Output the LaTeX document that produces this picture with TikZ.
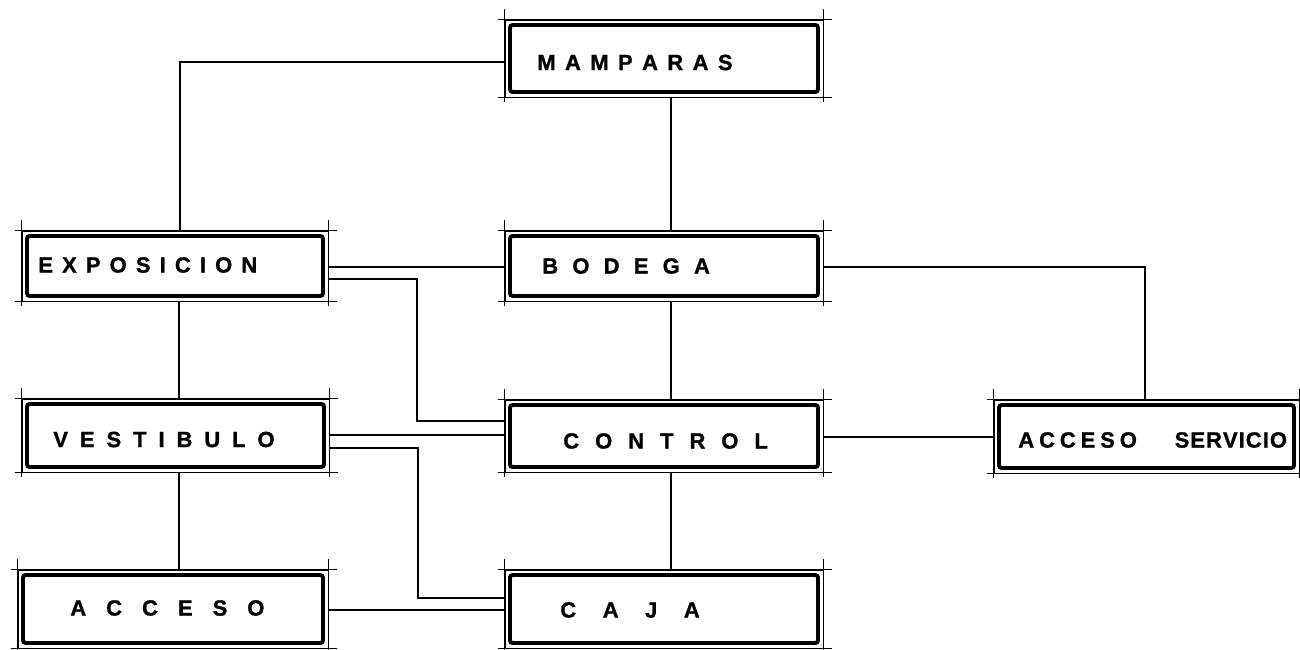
\documentclass[tikz,border=0pt]{standalone}
\usepackage{fontspec}
\setmainfont{Liberation Sans}
\newfontfamily\lblfont{Liberation Sans Bold}[FakeBold=1.2]
\usetikzlibrary{fit}
\newcommand\lsp[2]{\def\lspsep{\hspace{#1}}\lspA#2\relax}
\def\lspA#1{\ifx#1\relax\else#1\expandafter\lspB\fi}
\def\lspB#1{\ifx#1\relax\else\lspsep#1\expandafter\lspB\fi}
\begin{document}
\begin{tikzpicture}[x=0.02cm,y=-0.02cm,
  frame/.style={draw, line width=0.5pt, inner sep=0pt,
    path picture={\draw[line width=2.2pt, rounded corners=1.5pt]
      ([shift={(0.1cm,-0.1cm)}]path picture bounding box.north west) rectangle
      ([shift={(-0.1cm,0.1cm)}]path picture bounding box.south east);}},
  cropmark/.style={line width=0.5pt},
  lbl/.style={anchor=west, inner sep=0pt, font=\fontsize{12.5}{14}\lblfont},
  link/.style={line width=1.1pt}]
\useasboundingbox (0,0) rectangle (1300,649);
\fill[white] (0,0) rectangle (1300,649);
% boxes
\node[frame, fit={(505,20) (823,97)}] (mam) {};
\node[frame, fit={(22,231) (328,301)}] (exp) {};
\node[frame, fit={(505,231) (823,301)}] (bod) {};
\node[frame, fit={(22,399) (329,472)}] (ves) {};
\node[frame, fit={(505,400) (823,472)}] (con) {};
\node[frame, fit={(994,400) (1299,473)}] (acs) {};
\node[frame, fit={(18,570) (328,648)}] (acc) {};
\node[frame, fit={(505,570) (823,648)}] (caj) {};
% corner extension marks
\foreach \n in {mam,exp,bod,ves,con,acs,acc,caj}{
  \draw[cropmark] ([xshift=-0.14cm]\n.north west) -- ([xshift=0.18cm]\n.north east);
  \draw[cropmark] ([xshift=-0.14cm]\n.south west) -- ([xshift=0.18cm]\n.south east);
  \draw[cropmark] ([yshift=0.22cm]\n.north west) -- ([yshift=-0.1cm]\n.south west);
  \draw[cropmark] ([yshift=0.22cm]\n.north east) -- ([yshift=-0.1cm]\n.south east);
}
% labels
\node[lbl] (tmam) at (537,62.5) {\lsp{5.36pt}{MAMPARAS}};
\node[lbl] (texp) at (38,265) {\lsp{5.2pt}{EXPOSICION}};
\node[lbl] (tbod) at (542,266) {\lsp{8.1pt}{BODEGA}};
\node[lbl] (tves) at (53,439.5) {\lsp{6.8pt}{VESTIBULO}};
\node[lbl] (tcon) at (563,441) {\lsp{9.1pt}{CONTROL}};
\node[lbl] (tacs) at (1018,440) {\lsp{2.8pt}{ACCESO}\hspace{21.5pt}\lsp{0.6pt}{SERVICIO}};
\node[lbl] (tacc) at (70,608) {\lsp{11.4pt}{ACCESO}};
\node[lbl] (tcaj) at (560,610) {\lsp{15.1pt}{CAJA}};
% connectors
\draw[link] (mam.west |- 0,62) -| (exp.north -| 180,0);
\draw[link] (mam.south -| 671,0) -- (bod.north -| 671,0);
\draw[link] (exp.east |- 0,267) -- (bod.west |- 0,267);
\draw[link] (exp.east |- 0,279) -| (417,421) -- (con.west |- 0,421);
\draw[link] (bod.east |- 0,267) -| (acs.north -| 1145,0);
\draw[link] (bod.south -| 671,0) -- (con.north -| 671,0);
\draw[link] (exp.south -| 179,0) -- (ves.north -| 179,0);
\draw[link] (ves.east |- 0,435) -- (con.west |- 0,435);
\draw[link] (ves.east |- 0,448) -| (418,598) -- (caj.west |- 0,598);
\draw[link] (ves.south -| 179,0) -- (acc.north -| 179,0);
\draw[link] (acc.east |- 0,610) -- (caj.west |- 0,610);
\draw[link] (con.south -| 671,0) -- (caj.north -| 671,0);
\draw[link] (con.east |- 0,437) -- (acs.west |- 0,437);
\end{tikzpicture}
\end{document}
